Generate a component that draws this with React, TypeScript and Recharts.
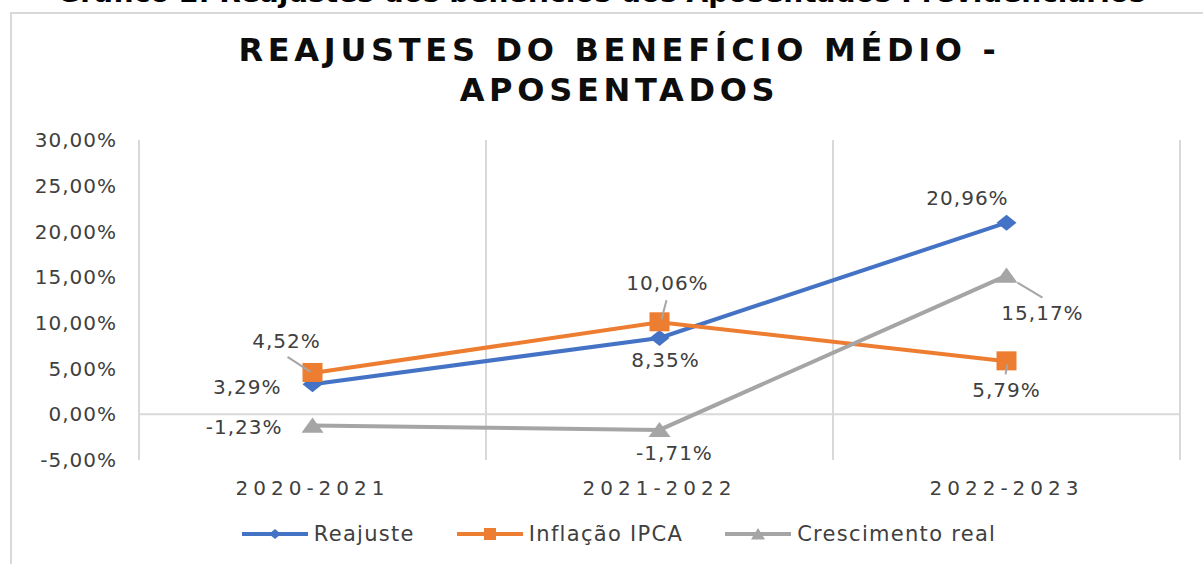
import React from 'react';
import { LineChart, Line, XAxis, YAxis, CartesianGrid, Legend, LabelList } from 'recharts';

const categories = ['2020-2021', '2021-2022', '2022-2023'];
const reajuste = [3.29, 8.35, 20.96];
const inflacao = [4.52, 10.06, 5.79];
const crescimento = [-1.23, -1.71, 15.17];
const yTicks = [-5, 0, 5, 10, 15, 20, 25, 30];
const seriesNames = ['Reajuste', 'Inflação IPCA', 'Crescimento real'];
const seriesKeys = ['reajuste', 'inflacao', 'crescimento'];
const titleLines = ['REAJUSTES DO BENEFÍCIO MÉDIO -', 'APOSENTADOS'];
const caption = 'Gráfico 2. Reajustes dos benefícios dos Aposentados Previdenciários';

const data = categories.map((c, i) => ({
  cat: c,
  reajuste: reajuste[i],
  inflacao: inflacao[i],
  crescimento: crescimento[i],
}));

const BLUE = '#4472C4';
const ORANGE = '#ED7D31';
const GRAY = '#A5A5A5';
const GRID = '#D9D9D9';
const TEXT = '#404040';
const FONT = '"DejaVu Sans", "Open Sans", sans-serif';

const fmt = (v: number) => v.toFixed(2).replace('.', ',') + '%';

type LabelPos = { dx: number; dy: number; anchor: 'start' | 'middle' | 'end'; leader?: [number, number, number, number] };
const reajustePos: LabelPos[] = [
  { dx: -31, dy: 3, anchor: 'end' },
  { dx: 6, dy: 22, anchor: 'middle' },
  { dx: -39, dy: -25, anchor: 'middle' },
];
const inflacaoPos: LabelPos[] = [
  { dx: -26, dy: -32, anchor: 'middle', leader: [-25, -16, -2, -1] },
  { dx: 8, dy: -39, anchor: 'middle', leader: [7, -22, 2, -3] },
  { dx: 0, dy: 29, anchor: 'middle', leader: [1, 3, -1, 13] },
];
const crescimentoPos: LabelPos[] = [
  { dx: -30, dy: 1, anchor: 'end' },
  { dx: 15, dy: 23, anchor: 'middle' },
  { dx: 36, dy: 37, anchor: 'middle', leader: [11, 7, 36, 22] },
];

const makeLabel = (positions: LabelPos[]) => (props: any) => {
  const vb = props.viewBox || {};
  const x = props.x ?? vb.x;
  const y = props.y ?? vb.y;
  const index = props.index ?? 0;
  const value = props.value;
  if (x == null || y == null || value == null) return null;
  const p = positions[index];
  if (!p) return null;
  return (
    <g key={`lbl-${index}`}>
      {p.leader && (
        <line
          x1={x + p.leader[0]}
          y1={y + p.leader[1]}
          x2={x + p.leader[2]}
          y2={y + p.leader[3]}
          stroke="#A6A6A6"
          strokeWidth={2}
        />
      )}
      <text
        x={x + p.dx}
        y={y + p.dy}
        textAnchor={p.anchor}
        dominantBaseline="central"
        fill={TEXT}
        fontSize={20}
        fontFamily={FONT}
        letterSpacing={1}
      >
        {fmt(Number(value))}
      </text>
    </g>
  );
};

const diamondPath = (cx: number, cy: number, w: number, h: number) =>
  `M${cx},${cy - h} L${cx + w},${cy} L${cx},${cy + h} L${cx - w},${cy} Z`;
const trianglePath = (cx: number, cy: number, w: number, h: number) =>
  `M${cx},${cy - h} L${cx + w},${cy + h * 0.9} L${cx - w},${cy + h * 0.9} Z`;

const DiamondDot = (props: any) => {
  const { cx, cy, index } = props;
  if (cx == null || cy == null) return <g key={`dd-${index}`} />;
  return <path key={`dd-${index}`} d={diamondPath(cx, cy, 10, 8)} fill={BLUE} />;
};
const SquareDot = (props: any) => {
  const { cx, cy, index } = props;
  if (cx == null || cy == null) return <g key={`sd-${index}`} />;
  return <rect key={`sd-${index}`} x={cx - 10} y={cy - 10} width={20} height={19} fill={ORANGE} />;
};
const TriangleDot = (props: any) => {
  const { cx, cy, index } = props;
  if (cx == null || cy == null) return <g key={`td-${index}`} />;
  return <path key={`td-${index}`} d={trianglePath(cx, cy, 11, 8)} fill={GRAY} />;
};

const LegendContent = (props: any) => {
  const payload = [...(props.payload || [])].sort(
    (a: any, b: any) => seriesKeys.indexOf(String(a.dataKey)) - seriesKeys.indexOf(String(b.dataKey))
  );
  return (
    <div
      style={{
        display: 'flex',
        justifyContent: 'center',
        alignItems: 'center',
        height: 40,
        fontFamily: FONT,
        fontSize: 21,
        color: TEXT,
      }}
    >
      {payload.map((entry: any, i: number) => {
        const color = entry.color;
        const k = seriesKeys.indexOf(String(entry.dataKey));
        let marker: React.ReactNode = null;
        if (k === 0) marker = <path d={diamondPath(33, 10, 6, 5)} fill={color} />;
        else if (k === 1) marker = <rect x={27} y={4} width={12} height={12} fill={color} />;
        else marker = <path d={trianglePath(33, 10, 7, 6)} fill={color} />;
        return (
          <div key={`leg-${i}`} style={{ display: 'flex', alignItems: 'center', marginRight: i < payload.length - 1 ? 42 : 0 }}>
            <svg width={66} height={20} style={{ marginRight: 6 }}>
              <line x1={0} y1={10} x2={66} y2={10} stroke={color} strokeWidth={4} />
              {marker}
            </svg>
            <span style={{ letterSpacing: 1.3 }}>{entry.value}</span>
          </div>
        );
      })}
    </div>
  );
};

export default function App() {
  return (
    <div
      style={{
        position: 'absolute',
        left: 0,
        top: 0,
        width: 1203,
        height: 564,
        overflow: 'hidden',
        background: '#ffffff',
        fontFamily: FONT,
      }}
    >
      <div
        style={{
          position: 'absolute',
          left: 10,
          top: 12,
          width: 1300,
          height: 700,
          border: `2px solid ${GRID}`,
          boxSizing: 'border-box',
        }}
      />
      <div
        style={{
          position: 'absolute',
          left: 0,
          width: 1203,
          top: -21,
          textAlign: 'center',
          fontWeight: 700,
          fontSize: 28,
          lineHeight: '28px',
          color: '#000000',
          whiteSpace: 'nowrap',
        }}
      >
        {caption}
      </div>
      <div
        style={{
          position: 'absolute',
          left: 0,
          width: 1239,
          top: 30,
          textAlign: 'center',
          fontWeight: 700,
          fontSize: 32,
          lineHeight: '40px',
          letterSpacing: 4.7,
          color: '#0D0D0D',
        }}
      >
        {titleLines.map((t, i) => (
          <div key={i}>{t}</div>
        ))}
      </div>
      <div style={{ position: 'absolute', left: 0, top: 0 }}>
        <LineChart
          width={1203}
          height={564}
          data={data}
          margin={{ top: 140, right: 23, bottom: 10, left: 19 }}
        >
          <CartesianGrid
            stroke={GRID}
            strokeWidth={2}
            verticalCoordinatesGenerator={(args: any) => {
              const { xAxis, offset } = args || {};
              try {
                const s = xAxis && xAxis.scale;
                const centers = categories.map((c) => Number(s(c)));
                if (centers.some((v) => !isFinite(v))) throw new Error('bad');
                const step = centers[1] - centers[0];
                return [...centers.map((c) => c - step / 2), centers[centers.length - 1] + step / 2];
              } catch (e) {
                const n = categories.length;
                return Array.from({ length: n + 1 }, (_, i) => offset.left + (offset.width * i) / n);
              }
            }}
            horizontalCoordinatesGenerator={(args: any) => {
              const { yAxis, offset } = args || {};
              try {
                const v = Number(yAxis.scale(0));
                if (!isFinite(v)) throw new Error('bad');
                return [v];
              } catch (e) {
                return [offset.top + (offset.height * 30) / 35];
              }
            }}
          />
          <XAxis
            dataKey="cat"
            axisLine={false}
            tickLine={false}
            interval={0}
            padding={{ left: 173.5, right: 173.5 }}
            tickMargin={15}
            height={54}
            tick={{ fill: TEXT, fontSize: 20, fontFamily: FONT, letterSpacing: 5 }}
          />
          <YAxis
            type="number"
            domain={[-5, 30]}
            ticks={yTicks}
            interval={0}
            axisLine={false}
            tickLine={false}
            tickMargin={16}
            width={120}
            tickFormatter={(v: number) => fmt(v)}
            tick={{ fill: TEXT, fontSize: 20, fontFamily: FONT, letterSpacing: 1 }}
          />
          <Legend
            verticalAlign="bottom"
            height={40}
            wrapperStyle={{ left: 0, width: 1238 }}
            content={LegendContent}
          />
          <Line
            name={seriesNames[0]}
            dataKey="reajuste"
            stroke={BLUE}
            strokeWidth={4}
            dot={DiamondDot}
            activeDot={false}
            isAnimationActive={false}
          >
            <LabelList dataKey="reajuste" content={makeLabel(reajustePos)} />
          </Line>
          <Line
            name={seriesNames[1]}
            dataKey="inflacao"
            stroke={ORANGE}
            strokeWidth={4}
            dot={SquareDot}
            activeDot={false}
            isAnimationActive={false}
          >
            <LabelList dataKey="inflacao" content={makeLabel(inflacaoPos)} />
          </Line>
          <Line
            name={seriesNames[2]}
            dataKey="crescimento"
            stroke={GRAY}
            strokeWidth={4}
            dot={TriangleDot}
            activeDot={false}
            isAnimationActive={false}
          >
            <LabelList dataKey="crescimento" content={makeLabel(crescimentoPos)} />
          </Line>
        </LineChart>
      </div>
    </div>
  );
}
